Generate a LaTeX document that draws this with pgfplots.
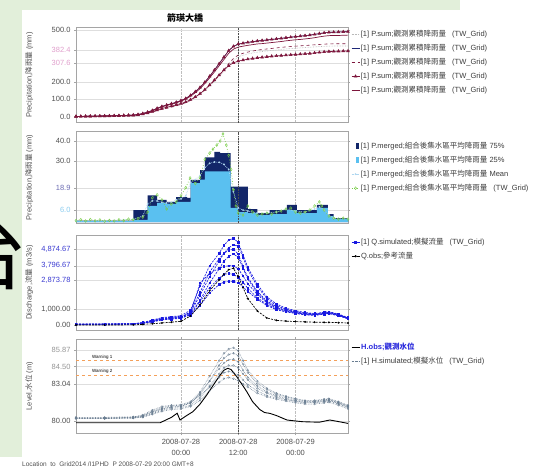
\documentclass[border=0pt]{standalone}
\usepackage{fontspec}
\setmainfont{Liberation Sans}
\newfontfamily\cjk{Noto Sans CJK TC}
\usepackage{pgfplots}
\pgfplotsset{compat=1.18}
\usepackage{pgfplotstable}

\definecolor{bggreen}{RGB}{226,239,218}
\definecolor{framegray}{RGB}{165,165,165}
\definecolor{vgrid}{RGB}{190,190,190}
\definecolor{gridgray}{RGB}{222,222,222}
\definecolor{ticklab}{RGB}{80,80,80}
\definecolor{legtext}{RGB}{60,60,60}
\definecolor{maroon}{RGB}{125,22,60}
\definecolor{navyline}{RGB}{30,40,120}
\definecolor{faintline}{RGB}{185,185,185}
\definecolor{pinklab}{RGB}{225,160,205}
\definecolor{navybar}{RGB}{18,38,105}
\definecolor{ltblue}{RGB}{90,192,240}
\definecolor{meanblue}{RGB}{175,215,240}
\definecolor{grgreen}{RGB}{120,205,70}
\definecolor{lab189}{RGB}{110,110,180}
\definecolor{lab60}{RGB}{140,205,240}
\definecolor{qblue}{RGB}{25,25,225}
\definecolor{qlab}{RGB}{60,60,210}
\definecolor{hgray}{RGB}{105,125,145}
\definecolor{warnorange}{RGB}{244,160,90}
\definecolor{hblue}{RGB}{40,40,220}
\definecolor{lightlab}{RGB}{150,150,150}

\pgfplotstableread{
h A B C D E
-22 0 0 0 0 0
-21 0.5 0.5 0.4 0.4 0.4
-20 1 1 0.8 0.8 0.8
-19 1.5 1.4 1.2 1.2 1.2
-18 2 1.9 1.6 1.6 1.6
-17 2.5 2.4 2 2 1.9
-16 3 2.9 2.4 2.4 2.3
-15 3.5 3.4 2.8 2.8 2.7
-14 4 3.8 3.2 3.2 3.1
-13 5 4.8 4 4 3.9
-12 6 5.8 5 5 4.9
-11 7 6.7 6 6 5.8
-10 8 7.7 7 7 6.8
-9 11 10.6 9 9 8.7
-8 17 16.3 13 14 12.6
-7 25 24 19 20 18.4
-6 35 33.6 26 28 25.2
-5 47 45 34 37 33
-4 58 55.7 42 46 40.7
-3 66 63.4 48 53 46.6
-2 74 71 55 60 53.4
-1 82 78.7 62 67 60.1
0 92 88.3 70 75 67.9
1 104 99.8 80 84 77.6
2 122 117 94 97 91.2
3 143 137 111 113 108
4 168 161 131 132 127
5 198 190 154 155 149
6 232 223 180 182 175
7 268 257 208 210 202
8 305 293 238 239 231
9 343 329 270 268 262
10 380 365 305 293 296
11 405 389 335 310 325
12 418 401 355 320 344
13 423 406 365 326 354
14 428 411 372 331 361
15 432 415 378 335 367
16 436 419 383 339 371
17 439 421 387 342 375
18 442 424 390 345 378
19 445 427 393 348 381
20 448 430 396 350 384
21 451 433 399 352 387
22 455 437 402 354 390
23 458 440 404 356 392
24 461 443 406 358 394
25 464 445 408 360 396
26 467 448 410 362 398
27 470 451 412 364 400
28 474 455 414 367 402
29 479 460 416 370 404
30 483 464 418 373 405
31 486 467 419 375 406
32 487 468 420 376 407
33 488 468 420 377 407
34 489 469 420 378 407
35 490 470 420 378 407
}\tabPsum

\pgfplotstableread{
h v
-22 0.8
-10 6.0
-7 13.2
-5 11.0
-3 10.0
-1 12.4
1.3 12.0
2 20.8
4 25.7
5 32.0
7 34.7
8.2 34.0
10.4 17.5
14 6.5
16 4.5
18.6 6.0
22.2 8.5
24.3 6.0
28.5 8.5
30.8 4.0
32 2.0
35 2.0
}\tabNavy

\pgfplotstableread{
h v
-22 0.5
-10 1.2
-7 8.0
-5 9.5
-3 9.0
-1 10.0
2 19.3
4 21.0
5 25.0
10.4 7.0
12 5.0
14 4.5
16 3.5
18.6 4.0
22.2 6.0
24.3 4.5
28.5 7.0
30.8 3.0
32 1.5
35 1.5
}\tabLight

\pgfplotstableread{
h v
-22 0.6
-16 0.7
-10 1.5
-8 3
-7 9
-6 10.5
-5 10.5
-4 9.8
-3 9.5
-2 9.8
-1 11
0 11.5
1 13
2 19.5
3 21
4 23
5 27
6 29
7 29.7
8 29.5
9 28.5
10 26
11 15
12 7
13 6
14 5.5
16 4.5
18 4.5
20 5
22 6.5
24 5.5
26 5
28 6.5
29 7.5
30 6
31 3.5
32 2
35 1.8
}\tabMean

\pgfplotstableread{
h v
-22 0.8
-21 1.2
-20 0.6
-19 1.3
-18 0.7
-17 1.1
-16 0.5
-15 0.9
-14 0.6
-13 1.2
-12 0.8
-11 1.5
-10 1.2
-9 1.8
-8 2.5
-7 5
-6 12
-5 13.5
-4 11
-3 6.5
-2 9
-1 10
0 13
1 17
1.9 21.8
3 19
4 22
5 31
6 34
6.7 36
7.5 38
8.2 40
8.8 43.5
9.5 38
10 33
10.5 26
11 16
11.5 8
12 4.5
13 3.5
14 8
15 5
16 3.5
17 4
18 4.5
19 4
20 5
21 5.5
22 6.5
23 7
24 5
25 4.5
26 5
27 6
28 8
29 10
29.5 8
30 6
31 3
32 2
33 1.5
34 2
35 1.5
}\tabGreen

\pgfplotstableread{
h m1 m2 m3 m4 m5 m6 m7 obs
-22 60 40 50 30 45 35 55 0
-16 70 50 55 40 50 45 60 0
-10 90 70 70 60 65 60 75 10
-8 160 130 120 110 120 100 140 40
-6 320 260 230 220 240 200 280 80
-4 470 400 360 340 380 320 430 130
-2 540 470 430 400 450 380 500 180
0 600 520 480 450 500 420 560 240
2 950 820 860 720 780 660 620 580
4 2500 1900 2100 1600 2700 1500 1250 1300
6 3800 3100 3400 2700 3300 2400 2050 2200
8 4600 4100 4250 3600 3650 3000 2600 2900
9 5100 4600 4600 4100 3750 3250 2750 3250
10 5450 4950 4800 4400 3800 3300 2800 3550
11 5560 5150 4850 4550 3800 3250 2800 3640
12 5300 5050 4550 4350 3600 3050 2700 3100
13 4500 4350 3750 3650 3150 2750 2450 2400
14 3700 3550 3050 2950 2650 2350 2150 1700
16 2600 2450 2150 2050 1950 1750 1650 900
18 1800 1700 1550 1480 1420 1320 1250 450
20 1350 1250 1180 1120 1080 1020 980 300
22 1080 1020 980 940 900 870 840 250
24 920 880 840 810 780 760 740 220
26 800 770 740 710 690 670 650 200
28 740 710 690 670 650 630 620 180
30 810 790 770 750 730 710 690 170
31 860 830 810 790 770 750 730 170
33 700 680 660 640 620 600 590 150
35 480 460 450 430 420 410 400 130
}\tabQ

\pgfplotstableread{
h g1 g2 g3 g4 g5 g6
-22 80.25 80.2 80.3 80.2 80.25 80.22
-16 80.25 80.2 80.3 80.2 80.25 80.22
-10 80.3 80.25 80.35 80.25 80.3 80.25
-8 80.5 80.4 80.45 80.35 80.4 80.3
-6 80.9 80.8 80.75 80.6 80.7 80.55
-4 81.2 81.1 81.0 80.9 81.0 80.8
-2 81.3 81.25 81.15 81.05 81.15 80.95
0 81.35 81.3 81.2 81.1 81.2 81.0
2 81.6 81.5 81.5 81.3 81.5 81.2
4 82.4 82.2 82.3 81.9 82.1 81.7
6 83.7 83.3 83.3 82.9 82.8 82.5
8 85.0 84.6 84.3 83.9 83.6 83.2
9 85.6 85.2 84.8 84.4 84.0 83.5
10 85.95 85.5 85.05 84.6 84.1 83.6
11 86.05 85.6 85.1 84.6 84.0 83.5
12 85.8 85.4 84.9 84.4 83.8 83.35
13 85.0 84.7 84.2 83.9 83.4 83.05
14 84.2 84.0 83.6 83.4 83.0 82.8
16 83.3 83.1 82.9 82.7 82.5 82.3
18 82.7 82.6 82.4 82.3 82.1 82.0
20 82.3 82.2 82.1 82.0 81.9 81.8
22 82.05 82.0 81.9 81.8 81.75 81.65
24 81.85 81.8 81.7 81.65 81.6 81.5
26 81.7 81.65 81.6 81.55 81.5 81.4
28 81.7 81.65 81.6 81.55 81.5 81.4
30 81.8 81.75 81.7 81.65 81.6 81.5
31 81.85 81.8 81.75 81.7 81.65 81.55
33 81.6 81.55 81.5 81.45 81.4 81.3
35 81.3 81.25 81.2 81.15 81.1 81.0
}\tabH

\pgfplotstableread{
h v
-22 79.85
-10 79.85
-4.4 79.85
-2 80.3
-0.8 80.64
-0.2 80.08
1 80.4
2.5 80.77
4 81.4
5.4 82.15
7 83.1
8.2 83.8
9 84.2
9.8 84.36
10.5 84.25
11.7 83.66
13 82.9
13.8 82.42
15 81.6
16.5 80.95
17.5 80.7
18.6 80.63
20 80.45
22.2 80.08
24 80.0
25.5 79.94
27 79.92
29 79.9
31.2 80.08
33 79.95
35 79.8
}\tabHobs

\pgfplotsset{
  panel/.style={
    scale only axis, width=272pt, xmin=-22, xmax=35,
    axis line style={draw=framegray, line width=0.5pt},
    xtick={0,12,24}, xticklabels={},
    xmajorgrids, ymajorgrids,
    x grid style={draw=vgrid, densely dotted, line width=0.4pt},
    y grid style={draw=gridgray, line width=0.4pt},
    tick align=outside, major tick length=2pt,
    ytick style={draw=framegray},
    xtick style={draw=none},
    tick label style={font=\fontsize{7.5}{9}\selectfont, text=ticklab},
    every axis y label/.style={at={(axis description cs:-0.172,0.5)}, rotate=90, anchor=center, font=\fontsize{7.5}{9}\selectfont, text=ticklab},
    legend style={at={(1,1)}, anchor=north west, xshift=3pt, draw=none, fill=none,
      font=\fontsize{7.5}{9}\selectfont, inner xsep=0pt, inner ysep=0pt, row sep=4.3pt,
      nodes={inner sep=1pt, text=legtext}},
    legend cell align=left,
    legend image code/.code={\draw[mark repeat=2,mark phase=2,##1] plot coordinates {(0pt,0pt) (4pt,0pt) (8pt,0pt)};},
    clip=true,
  },
}

\begin{document}
\begin{tikzpicture}
\fill[white] (0,0) rectangle (537pt,-471pt);
\path[use as bounding box] (0,0) rectangle (537pt,-471pt);
\fill[bggreen] (0,0) rectangle (460pt,-10pt);
\fill[bggreen] (0,0) rectangle (22pt,-457pt);
\begin{scope}
\clip (0,-10pt) rectangle (22pt,-457pt);
\node[font={\cjk\fontsize{82}{82}\selectfont}, inner sep=0pt, text=black] at (-13pt,-252pt) {台};
\end{scope}
\node[font={\cjk\bfseries\fontsize{9}{10}\selectfont}] at (185pt,-18.5pt) {箭瑛大橋};
\node[anchor=west, font=\fontsize{6.5}{7}\selectfont, text=ticklab, inner sep=0pt] at (22pt,-464pt) {Location\ \ to\ \ Grid2014 /I1PHD\ \ P 2008-07-29 20:00 GMT+8};

% Panel 1
\begin{axis}[panel, at={(76pt,-122.7pt)}, anchor=south west, height=95.2pt,
  ymin=-36, ymax=514, ytick={0,100,200,307.6,382.4,500},
  yticklabels={0.0,100.0,200.0,\textcolor{pinklab}{307.6},\textcolor{pinklab}{382.4},500.0},
  ylabel={Precipitation,{\cjk 降雨量} (mm)}, legend style={yshift=-1.5pt}]
\addplot[faintline, densely dotted, line width=0.6pt] table[x=h,y=E] {\tabPsum};
\addlegendentry{[1] P.sum;{\cjk 觀測累積降雨量}\hspace{6pt}(TW\_Grid)}
\addplot[navyline, line width=0.6pt] table[x=h,y=A] {\tabPsum};
\addlegendentry{[1] P.sum;{\cjk 觀測累積降雨量}\hspace{6pt}(TW\_Grid)}
\addplot[maroon, dashed, line width=0.6pt] table[x=h,y=C] {\tabPsum};
\addlegendentry{[1] P.sum;{\cjk 觀測累積降雨量}\hspace{6pt}(TW\_Grid)}
\addplot[maroon, line width=0.6pt, mark=triangle*, mark size=1.5pt] table[x=h,y=A] {\tabPsum};
\addlegendentry{[1] P.sum;{\cjk 觀測累積降雨量}\hspace{6pt}(TW\_Grid)}
\addplot[maroon, line width=0.7pt] table[x=h,y=B] {\tabPsum};
\addlegendentry{[1] P.sum;{\cjk 觀測累積降雨量}\hspace{6pt}(TW\_Grid)}
\addplot[maroon, line width=0.6pt, mark=triangle*, mark size=1.5pt, forget plot] table[x=h,y=D] {\tabPsum};
\draw[black!70, densely dotted, line width=0.6pt] ({axis cs:12,0}|-{rel axis cs:0,0}) -- ({axis cs:12,0}|-{rel axis cs:0,1});
\end{axis}

% Panel 2
\begin{axis}[panel, at={(76pt,-223pt)}, anchor=south west, height=91.3pt,
  ymin=-0.4, ymax=44.6, ytick={6,16.9,30,40},
  yticklabels={\textcolor{lab60}{6.0},\textcolor{lab189}{18.9},30.0,40.0},
  ylabel={Precipitation,{\cjk 降雨量} (mm)}, legend style={yshift=-9pt}]
\addplot[const plot, fill=navybar, draw=none,
  legend image code/.code={\fill[navybar] (4pt,-2.7pt) rectangle (7.5pt,2.7pt);}] table[x=h,y=v] {\tabNavy} \closedcycle;
\addlegendentry{[1] P.merged;{\cjk 組合後集水區平均降雨量} 75\%}
\addplot[const plot, fill=ltblue, draw=none,
  legend image code/.code={\fill[ltblue] (4pt,-2.7pt) rectangle (7.5pt,2.7pt);}] table[x=h,y=v] {\tabLight} \closedcycle;
\addlegendentry{[1] P.merged;{\cjk 組合後集水區平均降雨量} 25\%}
\addplot[meanblue, densely dotted, line width=0.7pt, mark=*, mark size=0.5pt, mark options={solid}] table[x=h,y=v] {\tabMean};
\addlegendentry{[1] P.merged;{\cjk 組合後集水區平均降雨量} Mean}
\addplot[grgreen, dotted, line width=0.7pt, mark=diamond, mark size=1.4pt, mark options={solid, line width=0.4pt}] table[x=h,y=v] {\tabGreen};
\addlegendentry{[1] P.merged;{\cjk 組合後集水區平均降雨量}\hspace{6pt}(TW\_Grid)}
\draw[black!70, densely dotted, line width=0.6pt] ({axis cs:12,0}|-{rel axis cs:0,0}) -- ({axis cs:12,0}|-{rel axis cs:0,1});
\end{axis}

% Panel 3
\begin{axis}[panel, at={(76pt,-330pt)}, anchor=south west, height=95pt,
  ymin=-321, ymax=5773, ytick={0,1000,2873.78,3796.67,4874.67},
  yticklabels={{0.00},{1,000.00},\textcolor{qlab}{2,873.78},\textcolor{qlab}{3,796.67},\textcolor{qlab}{4,874.67}},
  ylabel={Discharge,{\cjk 流量} (m3/s)}, legend style={yshift=-2pt}]
\addlegendimage{qblue, line width=0.8pt, mark=square*, mark size=0.8pt}
\addlegendentry{[1] Q.simulated;{\cjk 模擬流量}\hspace{6pt}(TW\_Grid)}
\addlegendimage{black, densely dashed, line width=0.7pt, mark=*, mark size=0.7pt, mark options={solid}}
\addlegendentry{Q.obs;{\cjk 參考流量}}
\foreach \c in {m1,m2,m3,m4,m5,m6,m7}{
  \addplot[qblue, dash pattern=on 2pt off 1.2pt, line width=0.65pt, mark=square*, mark size=0.75pt, mark options={solid}, forget plot] table[x=h,y=\c] {\tabQ};
}
\addplot[black, dash pattern=on 2pt off 1.2pt, line width=0.7pt, mark=*, mark size=0.6pt, mark options={solid}, forget plot] table[x=h,y=obs] {\tabQ};
\draw[black!70, densely dotted, line width=0.6pt] ({axis cs:12,0}|-{rel axis cs:0,0}) -- ({axis cs:12,0}|-{rel axis cs:0,1});
\end{axis}

% Panel 4
\begin{axis}[panel, at={(76pt,-433.3pt)}, anchor=south west, height=94.3pt,
  ymin=78.98, ymax=86.78, ytick={80,83.04,84.5,85.87},
  yticklabels={80.00,83.04,\textcolor{lightlab}{84.50},\textcolor{lightlab}{85.87}},
  xticklabels={{2008-07-28\\00:00},{2008-07-28\\12:00},{2008-07-29\\00:00}},
  xticklabel style={align=center, font=\fontsize{7.5}{11.5}\selectfont, text=ticklab},
  xtick style={draw=framegray},
  ylabel={Level,{\cjk 水位} (m)}, legend style={yshift=-3pt}]
\addlegendimage{black, line width=1pt}
\addlegendentry{\textcolor{hblue}{\bfseries H.obs;{\cjk\bfseries 觀測水位}}}
\addlegendimage{hgray, densely dotted, line width=0.7pt}
\addlegendentry{[1] H.simulated;{\cjk 模擬水位}\hspace{6pt}(TW\_Grid)}
\addplot[warnorange, dashed, line width=0.6pt, forget plot] coordinates {(-22,85.02) (35,85.02)};
\addplot[warnorange, dashed, line width=0.6pt, forget plot] coordinates {(-22,83.8) (35,83.8)};
\node[anchor=south, font=\fontsize{4.5}{5}\selectfont, inner sep=1pt] at (axis cs:-16.5,85.02) {Warning 1};
\node[anchor=south, font=\fontsize{4.5}{5}\selectfont, inner sep=1pt] at (axis cs:-16.5,83.8) {Warning 2};
\foreach \c in {g1,g2,g3,g4,g5,g6}{
  \addplot[hgray, densely dotted, line width=0.6pt, mark=o, mark size=0.9pt, mark options={solid, line width=0.3pt}, forget plot] table[x=h,y=\c] {\tabH};
}
\addplot[black, line width=0.9pt, forget plot] table[x=h,y=v] {\tabHobs};
\draw[black!70, densely dotted, line width=0.6pt] ({axis cs:12,0}|-{rel axis cs:0,0}) -- ({axis cs:12,0}|-{rel axis cs:0,1});
\end{axis}
\end{tikzpicture}
\end{document}
